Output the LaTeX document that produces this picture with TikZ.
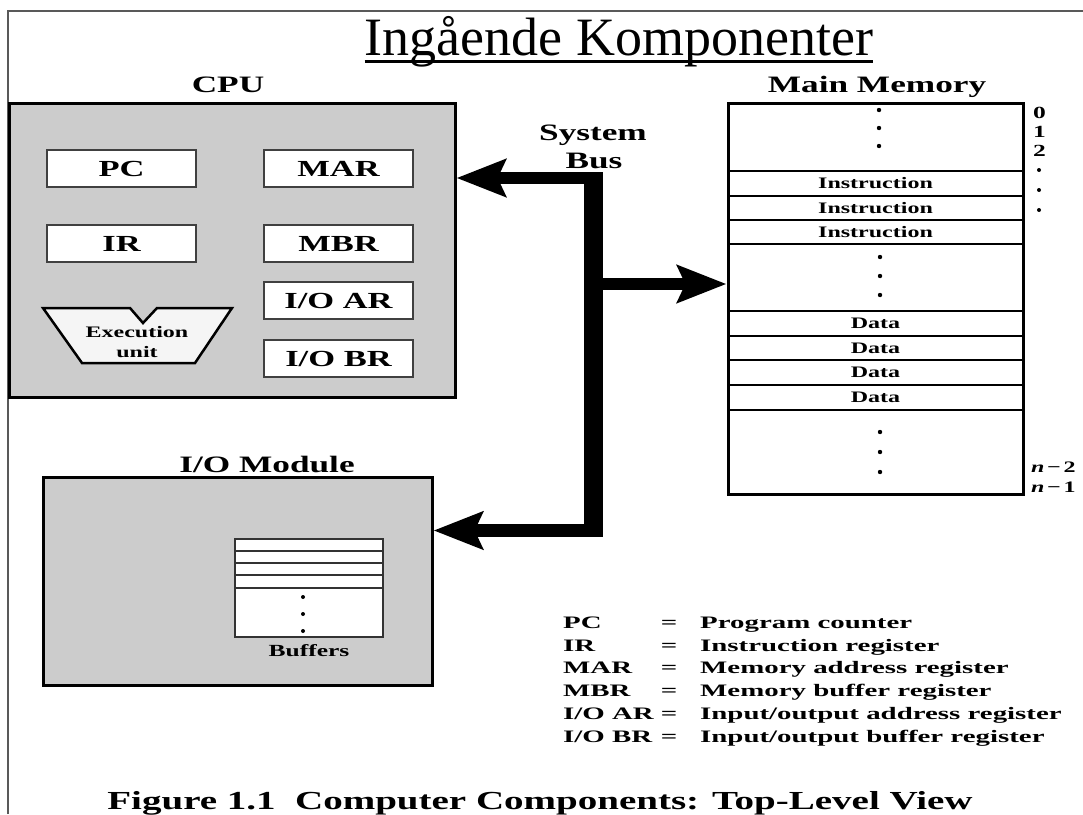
\documentclass[tikz,border=0pt]{standalone}
\usepackage{fontspec}
\setmainfont{Liberation Serif}
% wide bold serif used throughout the figure
\newfontfamily\figfont[FakeStretch=1.5]{Liberation Serif}
% slightly wider cut for the abbreviation list
\newfontfamily\legfont[FakeStretch=1.65]{Liberation Serif}
\usetikzlibrary{arrows.meta}
\begin{document}
\begin{tikzpicture}[x=1pt,y=-1pt,
  frameline/.style={draw=black!65, line width=1.5pt},
  unitbox/.style={draw=black, line width=3pt, fill=black!20, inner sep=0pt},
  regbox/.style={draw=black!75, line width=2pt, fill=white, inner sep=0pt,
    minimum width=149pt, minimum height=37pt,
    font=\figfont\bfseries\fontsize{23}{26}\selectfont},
  heading/.style={font=\figfont\bfseries\fontsize{23.5}{27}\selectfont, anchor=base, inner sep=0pt},
  memrow/.style={draw=black, line width=2pt, fill=white, inner sep=0pt,
    minimum width=295pt, font=\figfont\bfseries\fontsize{16}{18}\selectfont},
  bufrow/.style={draw=black!80, line width=2pt, fill=white, inner sep=0pt, minimum width=148pt},
  idx/.style={font=\figfont\bfseries\fontsize{17}{19}\selectfont, anchor=west, inner sep=0pt},
  legtext/.style={font=\legfont\bfseries\fontsize{17.5}{20}\selectfont, inner sep=0pt},
  busline/.style={line width=12pt, -{Stealth[length=49pt,width=37pt,inset=8pt]}},
  dotmark/.style={fill=black}
]
\useasboundingbox (0,0) rectangle (1083,814);

% page frame
\draw[frameline] (8,814) -- (8,11) -- (1083,11);

% title
\node[font=\fontsize{54}{60}\selectfont, anchor=base, inner sep=0pt] (title) at (619,55) {Ingående Komponenter};
\draw[line width=2.8pt] ([yshift=-6.5pt]title.base west) -- ([yshift=-6.5pt]title.base east);

% ---------------- CPU ----------------
\node[heading] (cpulbl) at (228,92) {CPU};
\node[unitbox, minimum width=446pt, minimum height=294pt] (cpu) at (232,250) {};
\node[regbox] (pc)   at (121.5,168.5) {PC};
\node[regbox] (mar)  at (338.5,168.5) {MAR};
\node[regbox] (ir)   at (121.5,243.5) {IR};
\node[regbox] (mbr)  at (338.5,243.5) {MBR};
\node[regbox] (ioar) at (338.5,300.5) {I/O AR};
\node[regbox] (iobr) at (338.5,358.5) {I/O BR};
\draw[line width=2.5pt, fill=black!4, line join=miter]
  (43,308) -- (130,308) -- (143,323) -- (157,308) -- (232,308) -- (195,363) -- (82,363) -- cycle;
\node[font=\figfont\bfseries\fontsize{16}{20}\selectfont, align=center, inner sep=0pt] (exu) at (137,342) {Execution\\unit};

% ---------------- Main memory ----------------
\node[heading] (memlbl) at (877,92) {Main Memory};
\node[memrow, minimum height=68pt] (mtop) at (875.5,137) {};
\node[memrow, minimum height=25pt] (ins1) at (875.5,183.5) {Instruction};
\node[memrow, minimum height=24pt] (ins2) at (875.5,208) {Instruction};
\node[memrow, minimum height=24pt] (ins3) at (875.5,232) {Instruction};
\node[memrow, minimum height=67pt] (mmid) at (875.5,277.5) {};
\node[memrow, minimum height=25pt] (dat1) at (875.5,323.5) {Data};
\node[memrow, minimum height=24pt] (dat2) at (875.5,348) {Data};
\node[memrow, minimum height=25pt] (dat3) at (875.5,372.5) {Data};
\node[memrow, minimum height=25pt] (dat4) at (875.5,397.5) {Data};
\node[memrow, minimum height=84pt] (mbot) at (875.5,452) {};
\node[draw=black, line width=3pt, inner sep=0pt, minimum width=295pt, minimum height=391pt] (mem) at (875.5,298.5) {};
\foreach \y in {110,128,146} \fill[dotmark] (879,\y) circle (2.2);
\foreach \y in {257,276,295} \fill[dotmark] (880,\y) circle (2.2);
\foreach \y in {432,452,472} \fill[dotmark] (880,\y) circle (2.2);

% address labels
\node[idx] (a0) at (1033,113) {0};
\node[idx] (a1) at (1033,132) {1};
\node[idx] (a2) at (1033,151) {2};
\foreach \y in {170,190,210} \fill[dotmark] (1039,\y) circle (2);
\node[idx, font=\figfont\bfseries\fontsize{16}{18}\selectfont] (an2) at (1031,467) {\textit{n}\,−\,2};
\node[idx, font=\figfont\bfseries\fontsize{16}{18}\selectfont] (an1) at (1031,487) {\textit{n}\,−\,1};

% ---------------- I/O module ----------------
\node[heading] (iolbl) at (267,472) {I/O Module};
\node[unitbox, minimum width=389pt, minimum height=208pt] (io) at (237.5,581.5) {};
\node[bufrow, minimum height=12pt] (b1) at (309,545) {};
\node[bufrow, minimum height=12pt] (b2) at (309,557) {};
\node[bufrow, minimum height=12pt] (b3) at (309,569) {};
\node[bufrow, minimum height=13pt] (b4) at (309,581.5) {};
\node[bufrow, minimum height=49pt] (b5) at (309,612.5) {};
\foreach \y in {597,614,631} \fill[dotmark] (303,\y) circle (2);
\node[font=\figfont\bfseries\fontsize{17}{19}\selectfont, anchor=base, inner sep=0pt] (buflbl) at (309,656) {Buffers};

% ---------------- System bus ----------------
\node[heading] (sys1) at (593,140) {System};
\node[heading] (sys2) at (594,168) {Bus};
\coordinate (busN) at (593.5,172);
\coordinate (busS) at (593.5,537);
\coordinate (tapCpu) at (599,178);
\coordinate (tapMem) at (593.5,284);
\coordinate (tapIo) at (599,530.5);
\draw[line width=19pt] (busN) -- (busS);
\draw[busline] (tapCpu) -- (cpu.east |- tapCpu);
\draw[busline] (tapMem) -- (mem.west |- tapMem);
\draw[busline, line width=13pt] (tapIo) -- (io.east |- tapIo);

% ---------------- Legend ----------------
\node[legtext, anchor=base west] (k1) at (563,628) {PC};
\node[legtext, anchor=base west] (k2) at (563,651) {IR};
\node[legtext, anchor=base west] (k3) at (563,673) {MAR};
\node[legtext, anchor=base west] (k4) at (563,696) {MBR};
\node[legtext, anchor=base west] (k5) at (563,719) {I/O AR};
\node[legtext, anchor=base west] (k6) at (563,742) {I/O BR};
\foreach \y/\n in {628/1,651/2,673/3,696/4,719/5,742/6}
  \node[legtext, anchor=base] (e\n) at (669,\y) {=};
\node[legtext, anchor=base west] (d1) at (700,628) {Program counter};
\node[legtext, anchor=base west] (d2) at (700,651) {Instruction register};
\node[legtext, anchor=base west] (d3) at (700,673) {Memory address register};
\node[legtext, anchor=base west] (d4) at (700,696) {Memory buffer register};
\node[legtext, anchor=base west] (d5) at (700,719) {Input/output address register};
\node[legtext, anchor=base west] (d6) at (700,742) {Input/output buffer register};

% caption
\node[font=\figfont\bfseries\fontsize{26}{30}\selectfont, anchor=base, inner sep=0pt] (caption) at (540,809) {Figure 1.1~~Computer Components: Top-Level View};
\end{tikzpicture}
\end{document}
